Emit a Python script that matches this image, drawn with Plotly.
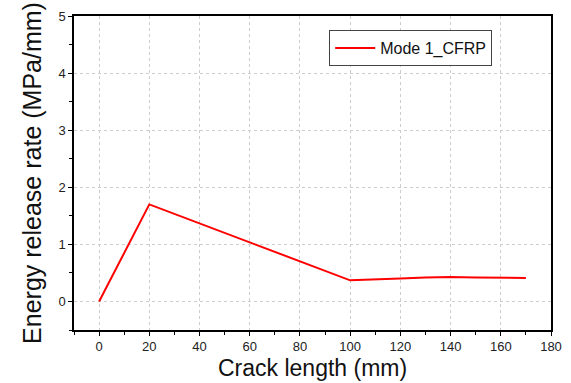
import plotly.graph_objects as go

# Crack length (mm) and energy release rate (MPa/mm) for the CFRP mode I case
crack_length = [0, 20, 100, 110, 120, 130, 140, 150, 160, 170]
energy_release = [0.0, 1.70, 0.37, 0.38, 0.40, 0.42, 0.43, 0.42, 0.41, 0.41]
series_name = "Mode 1_CFRP"
x_title = "Crack length (mm)"
y_title = "Energy release rate (MPa/mm)"

FONT = "Liberation Sans, Arial, sans-serif"
BOTTOM = 53

fig = go.Figure()
fig.add_trace(go.Scatter(
    x=crack_length, y=energy_release, mode="lines", name=series_name,
    line=dict(color="#ff0000", width=2),
))

axis_common = dict(
    showline=True, linecolor="black", linewidth=1.5, mirror=True,
    ticks="outside", ticklen=4, tickwidth=1.2, tickcolor="black",
    showgrid=True, gridcolor="#cccccc", griddash="dot", gridwidth=1,
    zeroline=False, automargin=False,
    tickfont=dict(family=FONT, size=13, color="#222"),
)

fig.update_xaxes(
    range=[-10, 180], dtick=20, tick0=0,
    minor=dict(dtick=10, ticks="outside", ticklen=3, tickcolor="black", showgrid=False),
    **axis_common,
)
fig.update_yaxes(
    range=[-0.5, 5], dtick=1, tick0=0,
    minor=dict(dtick=0.5, ticks="outside", ticklen=3, tickcolor="black", showgrid=False),
    title_text=y_title, title_standoff=10,
    title_font=dict(family=FONT, size=25, color="#111"),
    **axis_common,
)

# x-axis title sits at the bottom edge of the page, under the tick labels
fig.add_annotation(
    text=x_title, xref="paper", yref="paper", x=0.5, y=0,
    xanchor="center", yanchor="bottom", yshift=-(BOTTOM - 1), showarrow=False,
    borderpad=0, font=dict(family=FONT, size=23, color="#111"),
)

fig.update_layout(
    width=571, height=383,
    margin=dict(l=74, r=20, t=16, b=BOTTOM),
    paper_bgcolor="white", plot_bgcolor="white",
    showlegend=True,
    legend=dict(
        x=0.535, y=0.955, xanchor="left", yanchor="top",
        bordercolor="#444", borderwidth=1, bgcolor="white",
        font=dict(family=FONT, size=16, color="#111"),
        itemwidth=40, tracegroupgap=0,
    ),
)

fig.write_html("out.html")
